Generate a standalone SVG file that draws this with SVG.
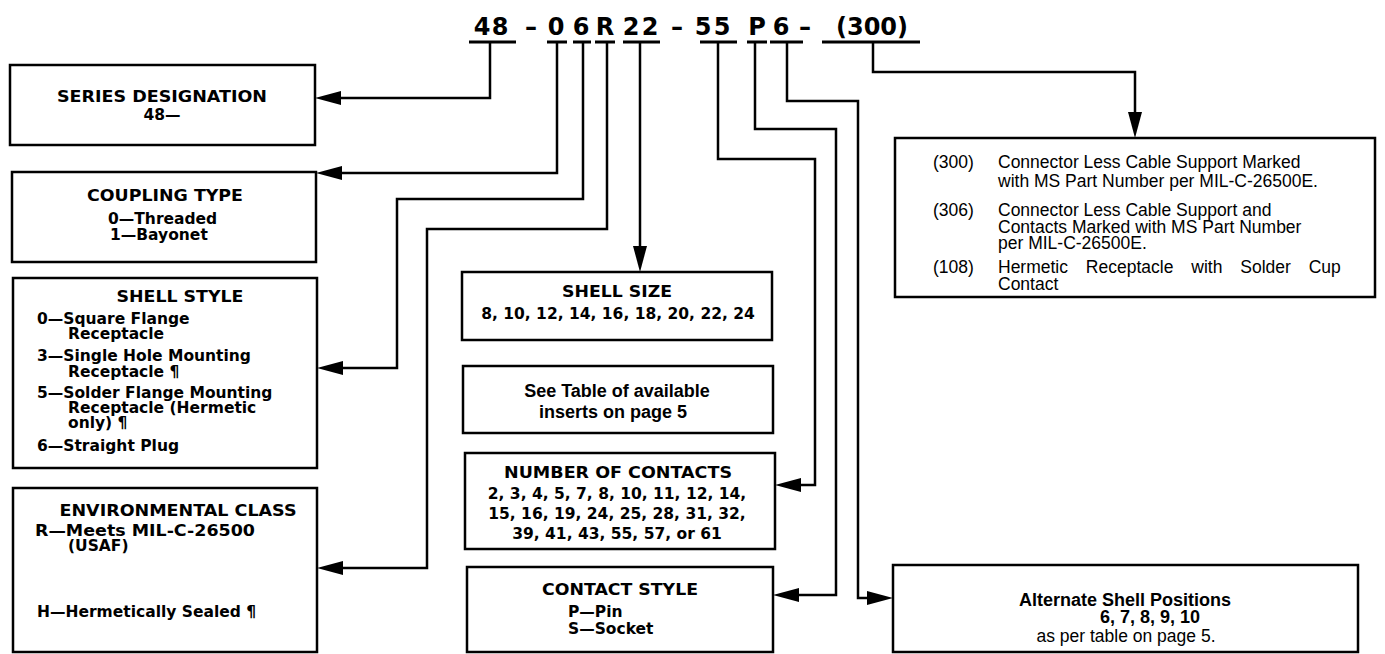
<svg xmlns="http://www.w3.org/2000/svg" width="1385" height="654" viewBox="0 0 1385 654">
<style>
.box{fill:#fff;stroke:#000;stroke-width:2.5}
.conn{fill:none;stroke:#000;stroke-width:2.5;marker-end:url(#arr)}
.ul{fill:none;stroke:#000;stroke-width:3}
.hd{font-family:"DejaVu Sans",sans-serif;font-weight:bold;font-size:24px;text-anchor:middle}
.tt{font-family:"DejaVu Sans",sans-serif;font-weight:bold;font-size:15px;text-anchor:middle}
.bd{font-family:"DejaVu Sans",sans-serif;font-weight:bold;font-size:15.5px}
.bc{font-family:"DejaVu Sans",sans-serif;font-weight:bold;font-size:15.5px;text-anchor:middle}
.hb{font-family:"Liberation Sans",Arial,sans-serif;font-weight:bold;font-size:18px;text-anchor:middle}
.hr{font-family:"Liberation Sans",Arial,sans-serif;font-size:17.5px}
.hrc{font-family:"Liberation Sans",Arial,sans-serif;font-size:17.5px;text-anchor:middle}
</style>
<defs>
<marker id="arr" markerUnits="userSpaceOnUse" markerWidth="28" markerHeight="14" refX="16" refY="7" orient="auto">
<path d="M0,0 L26,7 L0,14 z" fill="#000"/>
</marker>
</defs>
<rect width="1385" height="654" fill="#fff"/>

<g id="header">
<text class="hd" y="35"><tspan x="482">4</tspan><tspan x="500">8</tspan><tspan x="531">–</tspan><tspan x="556">0</tspan><tspan x="581">6</tspan><tspan x="605">R</tspan><tspan x="631">2</tspan><tspan x="650">2</tspan><tspan x="677">–</tspan><tspan x="703">5</tspan><tspan x="722">5</tspan><tspan x="757">P</tspan><tspan x="781">6</tspan><tspan x="805">–</tspan></text>
<text class="hd" x="872" y="35">(300)</text>
<path class="ul" d="M469,42H516 M547,42H567 M573,42H591 M595,42H615 M623,42H660 M700,42H737 M747,42H767 M770,42H803 M822,42H920"/>
</g>

<g id="connectors">
<path class="conn" d="M490,42 V98 H325"/>
<path class="conn" d="M557,42 V173 H326"/>
<path class="conn" d="M583,42 V199 H397 V368 H327"/>
<path class="conn" d="M607,42 V229 H427 V568 H327"/>
<path class="conn" d="M640,42 V262"/>
<path class="conn" d="M718,42 V159 H815 V485 H785"/>
<path class="conn" d="M755,42 V129 H836 V595 H783"/>
<path class="conn" d="M787,42 V101 H858 V598 H883"/>
<path class="conn" d="M873,42 V72 H1135 V128"/>
</g>

<g id="series">
<rect class="box" x="10" y="65" width="305" height="80"/>
<text class="tt" x="162" y="102" textLength="210" lengthAdjust="spacingAndGlyphs">SERIES DESIGNATION</text>
<text class="bc" x="162" y="120">48—</text>
</g>

<g id="coupling">
<rect class="box" x="12" y="172" width="304" height="90"/>
<text class="tt" x="165" y="201" textLength="156" lengthAdjust="spacingAndGlyphs">COUPLING TYPE</text>
<text class="bd" x="108" y="224">0—Threaded</text>
<text class="bd" x="110" y="240">1—Bayonet</text>
</g>

<g id="shellstyle">
<rect class="box" x="13" y="278" width="304" height="190"/>
<text class="tt" x="180" y="302" textLength="127" lengthAdjust="spacingAndGlyphs">SHELL STYLE</text>
<text class="bd" x="37" y="324">0—Square Flange</text>
<text class="bd" x="68" y="339">Receptacle</text>
<text class="bd" x="37" y="361">3—Single Hole Mounting</text>
<text class="bd" x="68" y="377">Receptacle ¶</text>
<text class="bd" x="37" y="398">5—Solder Flange Mounting</text>
<text class="bd" x="68" y="413">Receptacle (Hermetic</text>
<text class="bd" x="68" y="428">only) ¶</text>
<text class="bd" x="37" y="451">6—Straight Plug</text>
</g>

<g id="envclass">
<rect class="box" x="13" y="488" width="304" height="164"/>
<text class="tt" x="178" y="516" textLength="237" lengthAdjust="spacingAndGlyphs">ENVIRONMENTAL CLASS</text>
<text class="bd" x="35" y="536" textLength="220" lengthAdjust="spacingAndGlyphs">R—Meets MIL-C-26500</text>
<text class="bd" x="68" y="551">(USAF)</text>
<text class="bd" x="37" y="617">H—Hermetically Sealed ¶</text>
</g>

<g id="shellsize">
<rect class="box" x="462" y="272" width="310" height="68"/>
<text class="tt" x="617" y="297" textLength="110" lengthAdjust="spacingAndGlyphs">SHELL SIZE</text>
<text class="bc" x="618" y="319">8, 10, 12, 14, 16, 18, 20, 22, 24</text>
</g>

<g id="seetable">
<rect class="box" x="463" y="366" width="310" height="67"/>
<text class="hb" x="617" y="397">See Table of available</text>
<text class="hb" x="613" y="418">inserts on page 5</text>
</g>

<g id="contacts">
<rect class="box" x="465" y="453" width="310" height="96"/>
<text class="tt" x="618" y="478" textLength="228" lengthAdjust="spacingAndGlyphs">NUMBER OF CONTACTS</text>
<text class="bc" x="617" y="499">2, 3, 4, 5, 7, 8, 10, 11, 12, 14,</text>
<text class="bc" x="617" y="519">15, 16, 19, 24, 25, 28, 31, 32,</text>
<text class="bc" x="617" y="539">39, 41, 43, 55, 57, or 61</text>
</g>

<g id="contactstyle">
<rect class="box" x="467" y="567" width="306" height="85"/>
<text class="tt" x="620" y="595" textLength="156" lengthAdjust="spacingAndGlyphs">CONTACT STYLE</text>
<text class="bd" x="568" y="617">P—Pin</text>
<text class="bd" x="568" y="634">S—Socket</text>
</g>

<g id="options">
<rect class="box" x="895" y="138" width="480" height="159"/>
<text class="hr" x="933" y="168">(300)</text>
<text class="hr" x="998" y="168">Connector Less Cable Support Marked</text>
<text class="hr" x="998" y="187">with MS Part Number per MIL-C-26500E.</text>
<text class="hr" x="933" y="216">(306)</text>
<text class="hr" x="998" y="216">Connector Less Cable Support and</text>
<text class="hr" x="998" y="233">Contacts Marked with MS Part Number</text>
<text class="hr" x="998" y="249">per MIL-C-26500E.</text>
<text class="hr" x="933" y="273">(108)</text>
<text class="hr" x="998" y="273" word-spacing="13">Hermetic Receptacle with Solder Cup</text>
<text class="hr" x="998" y="290">Contact</text>
</g>

<g id="alternate">
<rect class="box" x="893" y="565" width="465" height="87"/>
<text class="hb" x="1125" y="606">Alternate Shell Positions</text>
<text class="hb" x="1150" y="623">6, 7, 8, 9, 10</text>
<text class="hrc" x="1126" y="642">as per table on page 5.</text>
</g>
</svg>
